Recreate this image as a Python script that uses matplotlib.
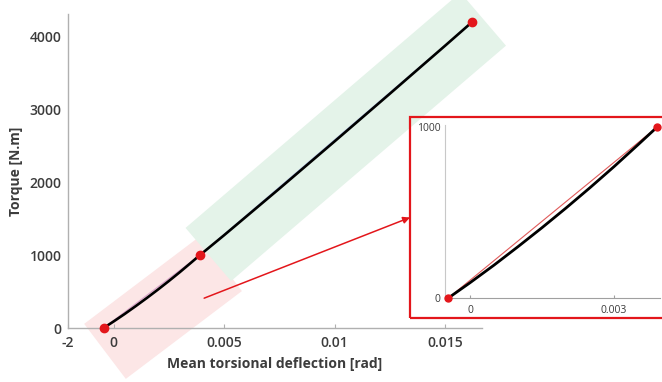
import numpy as np
import matplotlib.pyplot as plt
from matplotlib.patches import Polygon, Rectangle
from matplotlib.transforms import IdentityTransform

plt.rcParams['font.family'] = ['Open Sans', 'DejaVu Sans']

# torque vs. mean torsional deflection, low-load part (up to 1000 N.m)
defl_low = [-0.00045, 0.0, 0.0005, 0.001, 0.0015, 0.002, 0.0025, 0.003, 0.0035, 0.0039]
torque_low = [0, 89, 192, 300, 411, 526, 645, 768, 896, 1000]

# high-load part
defl_high = [0.0039, 0.005, 0.0075, 0.01, 0.0125, 0.015, 0.0162]
torque_high = [1000, 1275, 1915, 2565, 3220, 3880, 4200]

# points bounding the two stiffness regions
key_defl = [-0.00045, 0.0039, 0.0162]
key_torque = [0, 1000, 4200]

x_ticks = [0, 0.005, 0.01, 0.015]
x_ticklabels = ['-2', '0', '0.005', '0.01', '0.015']
y_ticks = [0, 1000, 2000, 3000, 4000]
inset_xticks = [0, 0.003]
inset_xticklabels = ['0', '0.003']
inset_yticks = [0, 1000]

RED = '#e3161b'
GREY = '#b0b0b0'
TXT = '#3c3c3c'

W, H = 662, 382
fig = plt.figure(figsize=(W / 100, H / 100), dpi=100)


def px_box(left, top, right, bottom):
    return [left / W, 1 - bottom / H, (right - left) / W, (bottom - top) / H]


def band(ax, p0, p1, before, after, left, right, color):
    # rotated strip along the segment p0-p1, sizes in pixels
    t = ax.transData
    a = np.array(t.transform(p0))
    b = np.array(t.transform(p1))
    u = (b - a) / np.linalg.norm(b - a)
    n = np.array([u[1], -u[0]])
    s = a - u * before
    e = b + u * after
    pts = [s - n * left, e - n * left, e + n * right, s + n * right]
    ax.add_patch(Polygon(pts, closed=True, transform=IdentityTransform(),
                         facecolor=color, edgecolor='none', clip_on=False, zorder=0.5))


ax = fig.add_axes(px_box(68, 14, 482, 328))
ax.set_xlim(-0.00206, 0.01667)
ax.set_ylim(0, 4316)

for side in ['top', 'right']:
    ax.spines[side].set_visible(False)
for side in ['left', 'bottom']:
    ax.spines[side].set_color(GREY)
    ax.spines[side].set_linewidth(1)

ax.set_xticks([ax.get_xlim()[0]] + x_ticks)
ax.set_xticklabels(x_ticklabels)
ax.set_yticks(y_ticks)
ax.tick_params(axis='x', direction='in', length=3, color=GREY, pad=6,
               labelsize=10, labelcolor=TXT)
ax.tick_params(axis='y', length=0, pad=4.5, labelsize=10, labelcolor=TXT)
for lab in ax.get_xticklabels() + ax.get_yticklabels():
    lab.set_fontweight('semibold')

ax.set_xlabel('Mean torsional deflection [rad]', fontsize=10, fontweight='bold',
              color=TXT, labelpad=5)
ax.set_ylabel('Torque [N.m]', fontsize=10, fontweight='bold', color=TXT, labelpad=5)

# shaded regions
p_start = (key_defl[0], key_torque[0])
p_mid = (key_defl[1], key_torque[1])
p_end = (key_defl[2], key_torque[2])
band(ax, p_start, p_mid, 13, 12, 15, 54, '#fce6e6')
band(ax, p_mid, p_end, -7, 11, 30, 40, '#e4f3e9')

# linear fits of each region
ax.plot(key_defl[:2], key_torque[:2], color='#d7a0c8', lw=0.8, zorder=2)
ax.plot(key_defl[1:], key_torque[1:], color='#a9b8e2', lw=0.8, zorder=2)

ax.plot(defl_low, torque_low, color='black', lw=1.9, zorder=3, solid_capstyle='round')
ax.plot(defl_high, torque_high, color='black', lw=1.9, zorder=3, solid_capstyle='round')
ax.plot(key_defl, key_torque, 'o', color=RED, ms=6, zorder=4, clip_on=False)

# zoom box
box_l, box_t, box_b = 410, 117, 318
box = Rectangle((box_l / W, 1 - box_b / H), 0.5, (box_b - box_t) / H,
                transform=fig.transFigure, fill=False, edgecolor=RED, lw=1.6, zorder=5)
fig.add_artist(box)

ax.annotate('', xy=(box_l / W, 1 - (box_t + box_b) / 2 / H), xycoords='figure fraction',
            xytext=(0.0041, 410), textcoords='data',
            arrowprops=dict(arrowstyle='-|>', color=RED, lw=1.1, mutation_scale=10,
                            shrinkA=0, shrinkB=0), zorder=5)

# inset: low-load region
axi = fig.add_axes(px_box(445, 125, 660, 298))
axi.set_xlim(-0.00052, 0.00396)
axi.set_ylim(0, 1012)
for side in ['top', 'right']:
    axi.spines[side].set_visible(False)
axi.spines['left'].set_color('#c8c8c8')
axi.spines['bottom'].set_color('#a0a0a0')
axi.spines['left'].set_linewidth(0.8)
axi.spines['bottom'].set_linewidth(0.8)
axi.set_xticks(inset_xticks)
axi.set_xticklabels(inset_xticklabels)
axi.set_yticks(inset_yticks)
axi.tick_params(axis='x', direction='in', length=2, color='#a0a0a0', pad=5,
                labelsize=7.5, labelcolor=TXT)
axi.tick_params(axis='y', length=0, pad=3, labelsize=7.5, labelcolor=TXT)

axi.plot(key_defl[:2], key_torque[:2], color='#e05a5a', lw=0.8, zorder=2)
axi.plot(defl_low, torque_low, color='black', lw=2, zorder=3, solid_capstyle='round')
axi.plot(key_defl[:2], key_torque[:2], 'o', color=RED, ms=5, zorder=4, clip_on=False)

fig.savefig('out.png', dpi=100)
